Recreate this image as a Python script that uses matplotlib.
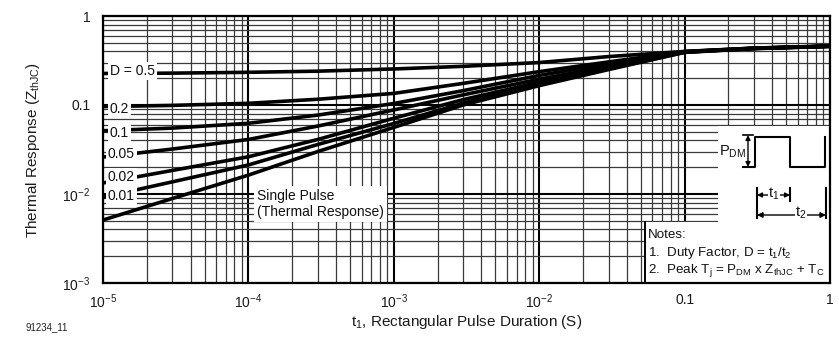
import matplotlib
matplotlib.use("Agg")
import matplotlib.pyplot as plt
from matplotlib.ticker import LogLocator, NullFormatter, FixedLocator, FixedFormatter
from matplotlib.patches import Polygon

plt.rcParams["font.family"] = ["Liberation Sans", "DejaVu Sans"]
plt.rcParams["mathtext.fontset"] = "custom"
plt.rcParams["mathtext.rm"] = "Liberation Sans"
plt.rcParams["mathtext.it"] = "Liberation Sans:italic"
plt.rcParams["mathtext.bf"] = "Liberation Sans:bold"

# pulse duration (s) and normalized thermal response
t = [1e-5, 3e-5, 1e-4, 3e-4, 1e-3, 3e-3, 1e-2, 3e-2, 0.1, 0.3, 1.0]
z_d05 = [0.226, 0.228, 0.233, 0.240, 0.254, 0.272, 0.300, 0.350, 0.400, 0.436, 0.460]
z_d02 = [0.096, 0.099, 0.1045, 0.116, 0.135, 0.175, 0.237, 0.305, 0.398, 0.435, 0.459]
z_d01 = [0.0514, 0.055, 0.0623, 0.077, 0.104, 0.145, 0.215, 0.290, 0.397, 0.434, 0.458]
z_d005 = [0.026, 0.032, 0.041, 0.058, 0.088, 0.130, 0.195, 0.272, 0.395, 0.433, 0.458]
z_d002 = [0.0133, 0.0184, 0.0262, 0.041, 0.071, 0.115, 0.180, 0.262, 0.393, 0.432, 0.457]
z_d001 = [0.0092, 0.0137, 0.0212, 0.036, 0.062, 0.105, 0.172, 0.255, 0.392, 0.432, 0.457]
z_single = [0.0051, 0.0089, 0.0163, 0.030, 0.056, 0.100, 0.165, 0.250, 0.390, 0.430, 0.455]

curves = [z_d05, z_d02, z_d01, z_d005, z_d002, z_d001, z_single]
curve_labels = ["D = 0.5", "0.2", "0.1", "0.05", "0.02", "0.01"]

x_ticks = [1e-5, 1e-4, 1e-3, 1e-2, 0.1, 1]
x_ticklabels = ["10$^{-5}$", "10$^{-4}$", "10$^{-3}$", "10$^{-2}$", "0.1", "1"]
y_ticks = [1e-3, 1e-2, 0.1, 1]
y_ticklabels = ["10$^{-3}$", "10$^{-2}$", "0.1", "1"]

W, H = 839, 340
fig = plt.figure(figsize=(W / 100, H / 100), dpi=100)
ax = fig.add_axes([103 / W, 1 - 283 / H, 727 / W, 267 / H])

# pixel -> axes fraction helper for the annotations
def A(px, py):
    return ((px - 103) / 727, (283 - py) / 267)

for z in curves:
    ax.plot(t, z, color="black", lw=2.6, solid_capstyle="butt", zorder=2)

ax.set_xscale("log")
ax.set_yscale("log")
ax.set_xlim(1e-5, 1)
ax.set_ylim(1e-3, 1)
ax.xaxis.set_major_locator(FixedLocator(x_ticks))
ax.xaxis.set_major_formatter(FixedFormatter(x_ticklabels))
ax.yaxis.set_major_locator(FixedLocator(y_ticks))
ax.yaxis.set_major_formatter(FixedFormatter(y_ticklabels))
for axis in (ax.xaxis, ax.yaxis):
    axis.set_minor_locator(LogLocator(base=10, subs=range(2, 10), numticks=20))
    axis.set_minor_formatter(NullFormatter())
ax.tick_params(which="both", length=0, labelsize=10, colors="#1a1a1a")
ax.tick_params(axis="x", pad=7)
ax.tick_params(axis="y", pad=9)
ax.set_axisbelow(True)
ax.grid(which="major", color="black", lw=1.5)
ax.grid(which="minor", color="#3a3a3a", lw=0.9)
for sp in ax.spines.values():
    sp.set_linewidth(1.6)
    sp.set_zorder(6)

ax.set_xlabel("t$_1$, Rectangular Pulse Duration (S)", fontsize=11, color="#1a1a1a")
ax.set_ylabel("Thermal Response (Z$_{\\mathrm{thJC}}$)", fontsize=11, color="#1a1a1a")
ax.xaxis.set_label_coords(0.5, A(0, 313)[1])
ax.yaxis.set_label_coords(A(42, 0)[0], 0.5)

# curve labels on white boxes at the left edge
label_pos = [(110, 71), (110, 109), (110, 133), (108, 154.5), (108, 177), (108, 196)]
for lab, (px, py) in zip(curve_labels, label_pos):
    ax.text(*A(px, py), lab, transform=ax.transAxes, fontsize=10, va="center", ha="left",
            color="#111111", zorder=4,
            bbox=dict(facecolor="white", edgecolor="none", pad=1.2))

ax.text(*A(257, 204), "Single Pulse\n(Thermal Response)", transform=ax.transAxes,
        fontsize=10, va="center", ha="left", color="#111111", linespacing=1.15, zorder=4,
        bbox=dict(facecolor="white", edgecolor="none", pad=2))

# white area for pulse diagram and notes
poly = Polygon([A(718, 126), A(830, 126), A(830, 283), A(645, 283), A(645, 222), A(718, 222)],
               closed=True, transform=ax.transAxes, facecolor="white", edgecolor="none", zorder=3)
ax.add_patch(poly)
ax.plot([A(645, 222)[0], A(645, 283)[0]], [A(645, 222)[1], A(645, 283)[1]],
        transform=ax.transAxes, color="black", lw=1.4, zorder=4, clip_on=False)

# square wave
wave = [(743, 167), (755, 167), (755, 137), (790, 137), (790, 167), (825, 167), (825, 137)]
ax.plot([A(*p)[0] for p in wave], [A(*p)[1] for p in wave], transform=ax.transAxes,
        color="black", lw=1.5, zorder=4)
for py in (135, 167):
    ax.plot([A(743, py)[0], A(753, py)[0]], [A(743, py)[1]] * 2, transform=ax.transAxes,
            color="black", lw=1.2, zorder=4)
ax.annotate("", xy=A(748, 135), xytext=A(748, 167), xycoords="axes fraction",
            arrowprops=dict(arrowstyle="<|-|>", color="black", lw=1.0, mutation_scale=7,
                            shrinkA=0, shrinkB=0), zorder=5)
ax.text(*A(719, 152), "P$_{\\mathrm{DM}}$", transform=ax.transAxes, fontsize=10.5,
        va="center", ha="left", color="#111111", zorder=5)

# t1 / t2 markers
for px, y0, y1 in [(757, 188, 218), (790, 188, 201), (826, 188, 218)]:
    ax.plot([A(px, y0)[0]] * 2, [A(px, y0)[1], A(px, y1)[1]], transform=ax.transAxes,
            color="black", lw=1.5, zorder=4)
ax.annotate("", xy=A(757, 195), xytext=A(790, 195), xycoords="axes fraction",
            arrowprops=dict(arrowstyle="<|-|>", color="black", lw=1.0, mutation_scale=7,
                            shrinkA=0, shrinkB=0), zorder=5)
ax.text(*A(774, 194), "t$_1$", transform=ax.transAxes, fontsize=10.5, va="center", ha="center",
        color="#111111", zorder=6, bbox=dict(facecolor="white", edgecolor="none", pad=0.3))
ax.annotate("", xy=A(757, 215), xytext=A(826, 215), xycoords="axes fraction",
            arrowprops=dict(arrowstyle="<|-|>", color="black", lw=1.0, mutation_scale=8,
                            shrinkA=0, shrinkB=0), zorder=5)
ax.text(*A(801, 213), "t$_2$", transform=ax.transAxes, fontsize=10.5, va="center", ha="center",
        color="#111111", zorder=6, bbox=dict(facecolor="white", edgecolor="none", pad=0.3))

# notes
notes = ["Notes:",
         "1.  Duty Factor, D = t$_1$/t$_2$",
         "2.  Peak T$_{\\mathrm{j}}$ = P$_{\\mathrm{DM}}$ x Z$_{\\mathrm{thJC}}$ + T$_{\\mathrm{C}}$"]
for line, py in zip(notes, (235, 253, 270)):
    ax.text(*A(648, py), line, transform=ax.transAxes, fontsize=9.6, va="center", ha="left",
            color="#111111", zorder=5)

fig.text(25 / W, 1 - 327 / H, "91234_11", fontsize=7, va="center", ha="left", color="#222222")

fig.savefig("out.png", dpi=100)
